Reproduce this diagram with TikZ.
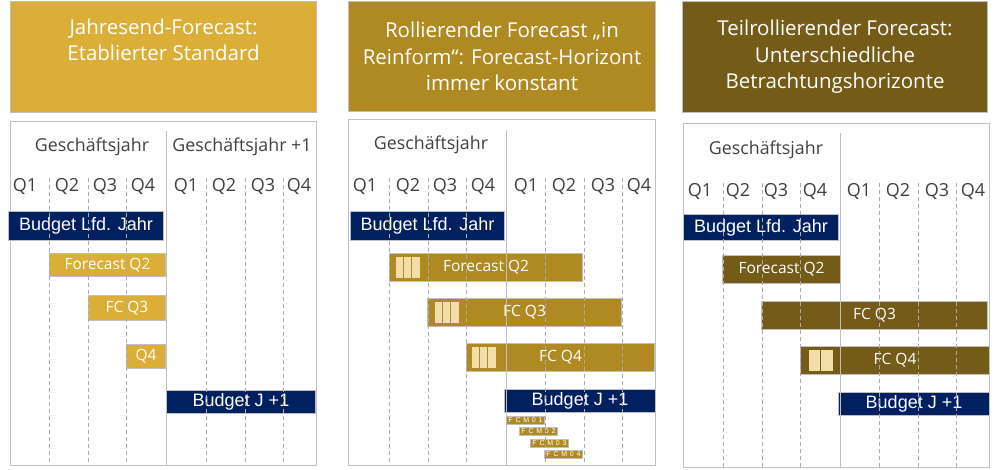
\documentclass[tikz,border=0pt]{standalone}
\usepackage{fontspec}
\setmainfont{Open Sans}
\newfontfamily\arialfont{Liberation Sans}
\newfontfamily\spacedfont[LetterSpace=40]{Liberation Sans}
\usetikzlibrary{positioning}
\definecolor{goldA}{HTML}{DBAE37}
\definecolor{goldB}{HTML}{AF8A22}
\definecolor{brownC}{HTML}{755B18}
\definecolor{navy}{HTML}{002060}
\definecolor{cream}{HTML}{F2DEA9}
\definecolor{rim}{HTML}{BFBFBF}
\definecolor{ink}{HTML}{404040}

\begin{document}
\begin{tikzpicture}[
  x=1pt, y=-1pt,
  titlebox/.style={draw=rim, line width=1pt, text=white, align=center, anchor=north west, inner sep=0pt, font=\fontsize{20.5}{26.5}\selectfont},
  year/.style={text=ink, font=\fontsize{17.8}{20}\selectfont},
  quarter/.style={text=ink, font=\fontsize{18}{20}\selectfont},
  bar/.style={draw=rim, line width=1pt, anchor=north west, inner sep=0pt, text=white},
  budget/.style={bar, fill=navy, font=\arialfont\fontsize{18}{20}\selectfont},
  fc/.style={bar, font=\fontsize{15.5}{18}\selectfont},
  fcm/.style={bar, fill=goldB, minimum width=38pt, minimum height=8pt, font=\spacedfont\fontsize{7}{7}\selectfont},
  panel/.style={draw=rim, line width=1pt},
  qline/.style={draw=gray!65, line width=1pt, dash pattern=on 4pt off 3pt},
  cell/.style={fill=cream, draw=goldB, line width=0.8pt},
]
\useasboundingbox (0,0) rectangle (1000,470);

  % First panel: year-end forecast
  \draw[panel] (10,122) rectangle (316,465);
  \node[titlebox, fill=goldA, minimum width=306pt, minimum height=111pt] (titleA) at (10,1) {Jahresend-Forecast:\\Etablierter Standard\\\strut};
  \node[year] (yearA) at (92,147) {Geschäftsjahr};
  \node[year] (nextA) at (242,147) {Geschäftsjahr +1};
  \foreach \x/\q [count=\i] in {25/1,67/2,105/3,143/4,186/1,224/2,263/3,299/4}
    \node[quarter] (qA\i) at (\x,187) {Q\q};
  \node[budget, minimum width=155pt, minimum height=29pt] (budgetA) at (8,211) {Budget Lfd. Jahr};
  \node[fc, fill=goldA, minimum width=116pt, minimum height=23pt] (fcA2) at (49,253) {Forecast Q2};
  \node[fc, fill=goldA, minimum width=77pt, minimum height=25pt] (fcA3) at (88,295) {FC Q3};
  \node[fc, fill=goldA, minimum width=39pt, minimum height=24pt] (fcA4) at (126,344) {Q4};
  \node[budget, minimum width=149pt, minimum height=23pt] (budgetA1) at (166,390) {Budget J +1};
  \foreach \x in {49,88,126,206,245,283}
    \draw[qline] (\x,178) -- (\x,462);
  \draw[panel] (166,131) -- (166,465);

  % Second panel: rolling forecast
  \begin{scope}[xshift=340pt]
  \draw[panel] (8,120) rectangle (315,465);
  \node[titlebox, fill=goldB, minimum width=307pt, minimum height=110pt] (titleB) at (8,1) {Rollierender Forecast „in\\Reinform“: Forecast-Horizont\\immer konstant};
  \node[year] (yearB) at (91,145) {Geschäftsjahr};
  \foreach \x/\q [count=\i] in {25/1,68/2,105/3,143/4,186/1,224/2,263/3,299/4}
    \node[quarter] (qB\i) at (\x,187) {Q\q};
  \node[budget, minimum width=154pt, minimum height=29pt] (budgetB) at (10,211) {Budget Lfd. Jahr};
  \node[fc, fill=goldB, minimum width=193pt, minimum height=28pt] (fcB2) at (49,253) {Forecast Q2};
  \node[fc, fill=goldB, minimum width=194pt, minimum height=28pt] (fcB3) at (87,298) {FC Q3};
  \node[fc, fill=goldB, minimum width=188pt, minimum height=28pt] (fcB4) at (126,343) {FC Q4};
  \foreach \x/\y in {55/256,94/301,131/346}
    \foreach \i in {0,1,2}
      \draw[cell] (\x+\i*8.3,\y) rectangle ++(8.3,22);
  \node[budget, minimum width=151pt, minimum height=23pt] (budgetB1) at (164,389) {Budget J +1};
  \node[fcm] (fcm1) at (166,416) {FCM01};
  \node[fcm] (fcm2) at (179,427) {FCM02};
  \node[fcm] (fcm3) at (190,439) {FCM03};
  \node[fcm] (fcm4) at (204,450) {FCM04};
  \foreach \x in {49,88,126,205,244,282}
    \draw[qline] (\x,178) -- (\x,462);
  \draw[panel] (166,130) -- (166,465);
  \end{scope}

  % Third panel: partially rolling forecast
  \begin{scope}[xshift=670pt]
  \draw[panel] (13,124) rectangle (319,467);
  \node[titlebox, fill=brownC, minimum width=305pt, minimum height=111pt] (titleC) at (12,1) {Teilrollierender Forecast:\\Unterschiedliche\\Betrachtungshorizonte};
  \node[year] (yearC) at (96,150) {Geschäftsjahr};
  \foreach \x/\q [count=\i] in {30/1,68/2,106/3,145/4,189/1,228/2,267/3,303/4}
    \node[quarter] (qC\i) at (\x,192) {Q\q};
  \node[budget, minimum width=155pt, minimum height=26pt] (budgetC) at (13,214) {Budget Lfd. Jahr};
  \node[fc, fill=brownC, minimum width=118pt, minimum height=28pt] (fcC2) at (52,255) {Forecast Q2};
  \node[fc, fill=brownC, minimum width=226pt, minimum height=28pt] (fcC3) at (91,301) {FC Q3};
  \node[fc, fill=brownC, minimum width=189pt, minimum height=28pt] (fcC4) at (130,346) {FC Q4};
  \foreach \i in {0,1}
    \draw[cell, draw=brownC] (138+\i*12.5,349) rectangle ++(12.5,22);
  \node[budget, minimum width=151pt, minimum height=23pt] (budgetC1) at (168,392) {Budget J +1};
  \foreach \x in {53,92,130,209,248,286}
    \draw[qline] (\x,183) -- (\x,470);
  \draw[panel] (170,133) -- (170,467);
  \end{scope}
\end{tikzpicture}
\end{document}
